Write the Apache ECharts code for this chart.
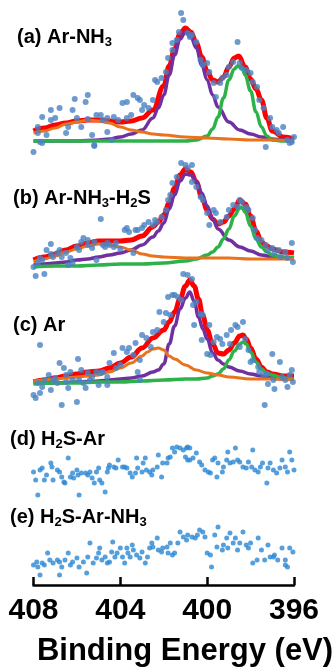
<!DOCTYPE html>
<html>
<head>
<meta charset="utf-8">
<script src="https://cdn.jsdelivr.net/npm/echarts@6/dist/echarts.min.js"></script>
<style>
  html, body { margin: 0; padding: 0; background: #fff; }
  #chart { width: 335px; height: 669px; }
</style>
</head>
<body>
<div id="chart"></div>
<script>
// binding energy axis (eV), ticks every 4 eV
var energyMin = 396;
var energyMax = 408;
var energyStep = 4;

// vertical stacking offset of each spectrum (a.u.)
var offsets = [444, 318, 201, 85, 5];

var panelLabels = [
  '(a) Ar-NH{s|3}',
  '(b) Ar-NH{s|3}-H{s|2}S',
  '(c) Ar',
  '(d) H{s|2}S-Ar',
  '(e) H{s|2}S-Ar-NH{s|3}'
];

// ---- (a) Ar-NH3 : [eV, intensity]
var aEnvelope = [[408,10],[407.5,13],[407,16],[406.5,18],[406,20],[405.5,21],[405,21],[404.5,20],[404,19],[403.5,20],[403,23],[402.5,31],[402,55],[401.75,75],[401.5,92],[401.25,107],[401,113],[400.75,109],[400.5,98],[400.25,84],[400,70],[399.75,61],[399.5,59],[399.25,64],[399,74],[398.75,83],[398.55,85],[398.25,74],[398,62],[397.75,52],[397.5,41],[397.25,23],[397,10],[396.5,4],[396,2]];
var aPeak1 = [[408,0],[406,0],[405,1],[404.5,2],[404,4],[403.5,7],[403,11],[402.5,23],[402.25,33],[402,46],[401.75,66],[401.5,86],[401.25,102],[401,109],[400.75,104],[400.5,93],[400.25,76],[400,61],[399.75,46],[399.5,34],[399,19],[398.5,11],[398,7],[397.5,4],[397,2],[396.5,1],[396,1]];
var aPeak2 = [[408,0],[401,0],[400.5,1],[400,5],[399.75,12],[399.5,24],[399.25,43],[399,61],[398.75,72],[398.6,75],[398.4,73],[398.25,66],[398,50],[397.75,29],[397.5,14],[397.25,5],[397,1],[396.5,0],[396,0]];
var aPeak3 = [[408,8],[407.5,10],[407,13],[406.5,17],[406,19],[405.5,21],[405,20],[404.5,18],[404,14],[403.5,11],[403,9],[402.5,7],[402,6],[401,4],[400,3],[399,2],[398,1],[397,1],[396,0]];
var aData = [[408,-11],[407.8,14],[407.8,8],[407.6,-2],[407.6,24],[407.4,6],[407.2,21],[407.2,31],[407,23],[406.8,33],[406.5,8],[406.4,14],[406.2,31],[406.1,42],[406,23],[405.8,14],[405.6,39],[405.5,46],[405.5,22],[405.3,6],[405.2,-5],[405.1,26],[404.9,26],[404.8,21],[404.6,9],[404.6,23],[404.4,1],[404.3,24],[404.1,21],[403.9,38],[403.7,39],[403.7,23],[403.5,26],[403.4,46],[403.2,43],[403.1,41],[403,31],[402.9,36],[402.7,33],[402.5,41],[402.4,61],[402.3,59],[402.1,63],[401.9,69],[401.8,83],[401.6,98],[401.6,91],[401.4,101],[401.3,109],[401.2,128],[401.1,121],[400.9,108],[400.8,104],[400.7,106],[400.5,99],[400.3,81],[400.2,76],[400,78],[399.9,69],[399.7,58],[399.6,44],[399.4,58],[399.3,63],[399.1,66],[399,74],[398.8,79],[398.6,99],[398.5,78],[398.4,73],[398.2,71],[398,68],[397.9,59],[397.7,54],[397.6,41],[397.4,33],[397.3,-6],[397.1,23],[397,14],[396.8,11],[396.7,8],[396.5,14],[396.3,1],[396.2,-2],[396.1,-1],[396,4],[407.7,-1],[405.2,-4]];

// ---- (b) Ar-NH3-H2S
var bEnvelope = [[408,7],[407.5,10],[407,13],[406.5,17],[406,21],[405.5,24],[405,26],[404.5,26],[404,26],[403.5,27],[403,31],[402.5,40],[402.25,45],[402,52],[401.75,64],[401.5,79],[401.25,92],[401,98],[400.75,95],[400.5,85],[400.25,70],[400,57],[399.75,48],[399.5,43],[399.25,45],[399,51],[398.75,58],[398.5,67],[398.25,63],[398,51],[397.75,36],[397.5,25],[397.25,21],[397,18],[396.5,15],[396,14]];
var bPeak1 = [[408,2],[407.5,3],[407,4],[406.5,5],[406,7],[405.5,8],[405,10],[404.5,12],[404,14],[403.5,17],[403,22],[402.5,30],[402.25,36],[402,44],[401.75,58],[401.5,72],[401.25,86],[401,93],[400.75,92],[400.5,86],[400.25,74],[400,61],[399.75,48],[399.5,38],[399,27],[398.5,20],[398,16],[397.5,12],[397,10],[396.5,9],[396,9]];
var bPeak2 = [[408,0],[407,1],[406,1],[405,2],[404,3],[403,3],[402,4],[401,6],[400.5,8],[400,12],[399.75,15],[399.5,20],[399.25,28],[399,38],[398.75,51],[398.5,59],[398.4,60],[398.25,55],[398,41],[397.75,28],[397.5,20],[397.25,15],[397,12],[396.5,10],[396,9]];
var bPeak3 = [[408,5],[407.5,8],[407,11],[406.5,15],[406,18],[405.5,21],[405,23],[404.5,22],[404,20],[403.5,17],[403,13],[402.5,11],[402,10],[401,9],[400,9],[399,9],[398,8],[397,8],[396,8]];
var bData = [[408,0],[407.9,-9],[407.8,4],[407.7,9],[407.6,7],[407.5,-7],[407.4,17],[407.2,13],[407.2,23],[407.1,10],[406.9,14],[406.8,17],[406.7,10],[406.5,14],[406.4,2],[406.3,9],[406.2,4],[406,20],[405.9,17],[405.8,25],[405.7,29],[405.5,22],[405.5,27],[405.3,19],[405.2,25],[405.1,7],[404.9,48],[404.8,22],[404.7,20],[404.6,24],[404.5,22],[404.3,20],[404.2,24],[404,18],[403.8,37],[403.7,39],[403.6,35],[403.4,14],[403.3,37],[403.2,37],[403,39],[402.9,42],[402.7,45],[402.5,42],[402.4,47],[402.3,45],[402.1,50],[401.9,57],[401.8,67],[401.7,72],[401.6,84],[401.4,90],[401.2,104],[401,102],[400.9,99],[400.7,102],[400.7,85],[400.5,80],[400.3,70],[400.2,67],[400,54],[399.9,42],[399.7,57],[399.6,54],[399.4,45],[399.1,50],[399,57],[398.8,62],[398.6,60],[398.5,67],[398.4,65],[398.2,60],[398.1,57],[397.9,49],[397.8,37],[397.7,29],[397.5,27],[397.3,22],[397.2,17],[397,19],[396.9,14],[396.7,17],[396.6,10],[396.4,15],[396.3,9],[396.1,24],[396.05,5]];

// ---- (c) Ar
var cEnvelope = [[408,2],[407.5,4],[407,6],[406.5,8],[406,10],[405.5,12],[405,13],[404.5,16],[404,21],[403.5,27],[403,36],[402.5,46],[402,54],[401.75,62],[401.5,72],[401.25,85],[401,98],[400.8,104],[400.6,98],[400.4,85],[400.2,68],[400,54],[399.75,40],[399.5,31],[399.25,30],[399,34],[398.75,41],[398.5,48],[398.35,49],[398.2,45],[398,36],[397.75,25],[397.5,17],[397.25,12],[397,10],[396.5,8],[396,8]];
var cPeak1 = [[408,1],[407,1],[406,2],[405,3],[404.5,4],[404,5],[403.5,6],[403,8],[402.5,12],[402.25,14],[402,20],[401.75,40],[401.5,58],[401.25,75],[401,86],[400.8,92],[400.6,83],[400.4,67],[400.2,55],[400,45],[399.75,31],[399.5,24],[399.25,20],[399,17],[398.5,13],[398,10],[397.5,8],[397,6],[396.5,5],[396,5]];
var cPeak2 = [[408,0],[407,1],[406,1],[405,2],[404,2],[403,3],[402,4],[401,5],[400.5,5],[400,6],[399.75,8],[399.5,10],[399.25,15],[399,24],[398.75,33],[398.5,40],[398.35,42],[398.2,40],[398,32],[397.75,22],[397.5,15],[397.25,11],[397,9],[396.5,6],[396,5]];
var cPeak3 = [[408,3],[407.5,4],[407,5],[406.5,6],[406,7],[405.5,8],[405,9],[404.5,12],[404,16],[403.5,21],[403,28],[402.75,32],[402.5,35],[402.25,36],[402,34],[401.75,28],[401.5,25],[401,19],[400.5,14],[400,11],[399.5,9],[399,7],[398,5],[397,5],[396,4]];
var cData = [[408,-11],[407.9,-14],[407.8,1],[407.7,39],[407.7,-9],[407.6,-3],[407.5,4],[407.3,9],[407.2,-6],[407.1,4],[407,6],[406.9,1],[406.8,21],[406.7,-21],[406.6,16],[406.5,2],[406.5,9],[406.4,-4],[406.3,12],[406.2,4],[406,-18],[405.95,25],[405.9,4],[405.8,14],[405.7,1],[405.6,-4],[405.5,11],[405.4,4],[405.3,7],[405.1,12],[405,-1],[404.9,11],[404.8,12],[404.6,7],[404.6,-1],[404.5,21],[404.3,31],[404.2,16],[404,19],[403.9,36],[403.7,32],[403.6,36],[403.4,29],[403.3,41],[403.2,12],[403.1,4],[403.1,24],[403,49],[402.8,46],[402.6,37],[402.5,52],[402.3,54],[402.2,72],[402,62],[401.9,71],[401.8,87],[401.7,69],[401.6,89],[401.5,89],[401.35,87],[401.2,84],[401.1,110],[400.9,109],[400.7,105],[400.65,79],[400.5,82],[400.3,70],[400.6,59],[400.2,69],[399.9,59],[400.25,44],[400,30],[399.85,29],[399.7,42],[399.55,47],[399.4,45],[399.3,40],[399.1,49],[398.95,40],[398.9,54],[398.7,59],[398.6,57],[398.35,62],[398.25,45],[398.5,37],[398.1,34],[398,22],[397.9,24],[397.65,17],[397.6,12],[397.4,9],[397.25,10],[397.2,0],[397,30],[396.95,4],[396.9,-5],[396.65,22],[396.55,7],[396.4,4],[396.3,-3],[396.2,9],[396.1,14],[396.05,2],[397.35,-21]];

// ---- (d) H2S-Ar
var dData = [[408,28],[407.9,20],[407.8,5],[407.7,30],[407.6,32],[407.5,20],[407.4,25],[407.2,37],[407.15,33],[407.1,20],[406.9,30],[406.8,28],[406.7,23],[406.6,18],[406.55,17],[406.4,42],[406.3,23],[406.2,27],[406.15,22],[406,30],[405.95,25],[405.9,5],[405.8,27],[405.6,27],[405.5,25],[405.4,28],[405.3,22],[405.2,17],[405.1,28],[405,32],[404.95,20],[404.85,17],[404.7,8],[404.6,28],[404.55,32],[404.5,35],[404.3,33],[404.2,32],[404.1,40],[403.9,33],[403.8,33],[403.7,32],[403.55,27],[403.45,23],[403.3,27],[403.25,42],[403.2,32],[403,28],[402.95,37],[402.85,42],[402.8,30],[402.65,28],[402.55,25],[402.5,30],[402.3,33],[402.25,45],[402.1,23],[402.05,37],[401.85,37],[401.8,42],[401.7,43],[401.6,52],[401.5,48],[401.4,53],[401.25,52],[401.1,50],[400.95,52],[400.9,53],[400.8,52],[401,43],[400.9,40],[400.8,40],[400.65,42],[400.5,47],[400.35,38],[400.25,35],[400.1,30],[399.95,28],[399.85,27],[399.75,40],[399.65,42],[399.55,23],[399.5,37],[399.3,28],[399.25,33],[399.1,40],[399.05,48],[398.95,37],[398.8,38],[398.7,52],[398.6,40],[398.5,38],[398.35,33],[398.2,32],[398.1,38],[397.95,33],[397.9,50],[397.8,30],[397.65,28],[397.55,33],[397.45,37],[397.25,17],[397.2,32],[397.1,37],[396.95,30],[396.8,27],[396.65,32],[396.55,40],[396.4,33],[396.3,28],[396.2,48],[396.1,40],[396,30]];

// ---- (e) H2S-Ar-NH3
var eData = [[408,15],[407.85,18],[407.8,13],[407.6,17],[407.5,15],[407.35,27],[407.25,20],[407.1,17],[406.9,20],[406.8,18],[406.7,13],[406.55,20],[406.4,27],[406.3,15],[406.2,18],[406,22],[405.9,13],[405.7,18],[405.5,23],[405.4,37],[405.25,17],[405.1,22],[405,27],[404.95,32],[404.85,20],[404.7,23],[404.6,17],[404.5,18],[404.4,28],[404.35,38],[404.25,23],[404.15,27],[404,32],[403.9,23],[403.8,17],[403.7,32],[403.65,27],[403.55,23],[403.45,35],[403.4,30],[403.25,25],[403.1,22],[403,28],[402.85,17],[402.75,23],[402.65,32],[402.55,37],[402.5,33],[402.3,42],[402.25,30],[402.1,28],[402.05,32],[401.85,33],[401.8,27],[401.7,37],[401.6,25],[401.5,27],[401.35,37],[401.25,48],[401.1,43],[400.95,40],[400.9,45],[400.7,43],[400.55,42],[400.45,45],[400.35,50],[400.2,48],[400.1,43],[400,27],[399.85,25],[399.8,13],[399.65,45],[399.55,33],[399.5,53],[399.3,30],[399.25,35],[399.1,42],[399.05,32],[398.95,47],[398.8,37],[398.7,42],[398.6,30],[398.5,37],[398.35,48],[398.2,35],[398.1,32],[398,37],[397.9,17],[397.7,20],[397.65,42],[397.5,30],[397.35,20],[397.2,35],[397.1,23],[396.95,23],[396.9,25],[396.75,20],[396.55,32],[396.4,20],[396.3,13],[396.2,32],[396.05,28],[407.7,5],[406.8,5],[405.55,7],[396.4,15]];

var labelPos = [[17, 37], [13, 198], [13, 325], [10, 439], [10, 517]];

var FONT = '"Liberation Sans", Arial, sans-serif';
var RED = '#ff0000', PURPLE = '#7030a0', GREEN = '#2db24a', ORANGE = '#e8731c';

function lift(arr, off) {
  return arr.map(function (p) { return [p[0], p[1] + off]; });
}

function curve(arr, off, color, width) {
  return {
    type: 'line',
    data: lift(arr, off),
    smooth: 0.4,
    smoothMonotone: 'x',
    showSymbol: false,
    silent: true,
    lineStyle: { color: color, width: width },
    z: 2
  };
}

function dots(arr, off, color, size) {
  return {
    type: 'scatter',
    data: lift(arr, off),
    symbolSize: size,
    silent: true,
    itemStyle: { color: color },
    z: 3
  };
}

var series = [];
var fits = [
  [aEnvelope, aPeak1, aPeak2, aPeak3, aData],
  [bEnvelope, bPeak1, bPeak2, bPeak3, bData],
  [cEnvelope, cPeak1, cPeak2, cPeak3, cData]
];
fits.forEach(function (f, i) {
  series.push(curve(f[0], offsets[i], RED, 5));
  series.push(curve(f[1], offsets[i], PURPLE, 3.5));
  series.push(curve(f[2], offsets[i], GREEN, 3.5));
  series.push(curve(f[3], offsets[i], ORANGE, 3));
  series.push(dots(f[4], offsets[i], '#4a82c3', 6));
});
series.push(dots(dData, offsets[3], '#2b87d3', 5));
series.push(dots(eData, offsets[4], '#2b87d3', 5));

var graphics = panelLabels.map(function (t, i) {
  return {
    type: 'text',
    x: labelPos[i][0],
    y: labelPos[i][1],
    silent: true,
    style: {
      text: t,
      fill: '#000',
      fontSize: 20,
      fontWeight: 'bold',
      fontFamily: FONT,
      align: 'left',
      verticalAlign: 'middle',
      rich: {
        s: { fontSize: 13, fontWeight: 'bold', fontFamily: FONT, fill: '#000', padding: [10, 0, 0, 0] }
      }
    }
  };
});
graphics.push({
  type: 'text',
  x: 185,
  y: 651,
  silent: true,
  style: {
    text: 'Binding Energy (eV)',
    fill: '#000',
    fontSize: 31,
    fontWeight: 'bold',
    fontFamily: FONT,
    align: 'center',
    verticalAlign: 'middle'
  }
});

var chart = echarts.init(document.getElementById('chart'), null, { renderer: 'canvas' });
chart.setOption({
  animation: false,
  backgroundColor: '#fff',
  grid: { left: 33.5, right: 41, top: 0, bottom: 84 },
  xAxis: {
    type: 'value',
    min: energyMin,
    max: energyMax,
    interval: energyStep,
    inverse: true,
    axisLine: { lineStyle: { color: '#000', width: 2.5 } },
    axisTick: { inside: true, length: 8, lineStyle: { color: '#000', width: 2.5 } },
    axisLabel: { color: '#000', fontSize: 30, fontWeight: 'bold', fontFamily: FONT, margin: 11 },
    splitLine: { show: false }
  },
  yAxis: { type: 'value', min: 0, max: 585, show: false },
  graphic: graphics,
  series: series
});
</script>
</body>
</html>
